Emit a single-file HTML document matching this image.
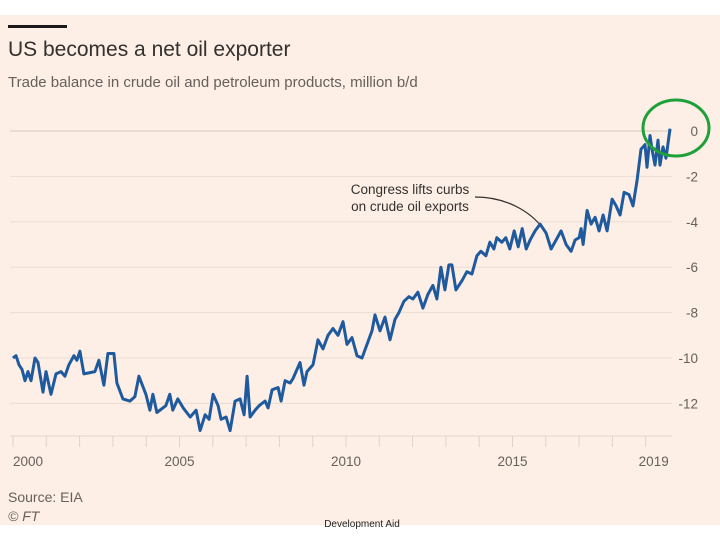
<!DOCTYPE html>
<html><head><meta charset="utf-8">
<style>
html,body{margin:0;padding:0;background:#fff;}
svg{display:block;font-family:"Liberation Sans",sans-serif;}
</style></head>
<body>
<svg id="chart" width="720" height="540" viewBox="0 0 720 540">
<rect x="0" y="15" width="720" height="510" fill="#fdefe5"/>
<rect x="8" y="25" width="59" height="3" fill="#1a1a1a"/>
<text x="8" y="56" font-size="21" fill="#33302e">US becomes a net oil exporter</text>
<text x="8" y="87" font-size="15" fill="#66605c">Trade balance in crude oil and petroleum products, million b/d</text>
<g id="grid"></g>
<g id="xaxis"></g>
<g id="annot">
<text x="410" y="194" font-size="13.5" fill="#33302e" text-anchor="middle">Congress lifts curbs</text>
<text x="410" y="211" font-size="13.5" fill="#33302e" text-anchor="middle">on crude oil exports</text>
<path d="M475,197 C510,197 535,215 545,232" fill="none" stroke="#33302e" stroke-width="1.2"/>
</g>
<path id="line" fill="none" stroke="#1f5a9e" stroke-width="3" stroke-linejoin="round"/>
<ellipse cx="676" cy="128" rx="33" ry="28" fill="none" stroke="#1fa03a" stroke-width="3"/>
<text x="8" y="502" font-size="14" fill="#66605c">Source: EIA</text>
<text x="8" y="521" font-size="14" font-style="italic" fill="#66605c">© FT</text>
<text x="362" y="527" font-size="10" fill="#222" text-anchor="middle">Development Aid</text>
</svg>
<script>
const yearOffsets=[0,.09,.18,.27,.36,.45,.54,.66,.75,.9,.99,1.14,1.29,1.44,1.56,1.68,1.83,1.92,2.01,2.13,2.46,2.58,2.73,2.85,3.03,3.12,3.3,3.51,3.66,3.78,3.99,4.11,4.2,4.32,4.59,4.71,4.8,4.95,5.11,5.32,5.5,5.62,5.77,5.89,6.01,6.16,6.25,6.4,6.52,6.67,6.82,6.94,7.03,7.12,7.27,7.39,7.57,7.66,7.78,7.96,8.05,8.17,8.32,8.41,8.62,8.74,8.83,9.01,9.16,9.31,9.46,9.61,9.76,9.91,10.03,10.18,10.33,10.48,10.63,10.78,10.87,11.02,11.17,11.32,11.47,11.59,11.74,11.89,12.01,12.16,12.31,12.46,12.61,12.73,12.85,12.97,13.09,13.18,13.3,13.48,13.63,13.78,13.93,14.05,14.2,14.32,14.44,14.53,14.68,14.8,14.92,15.05,15.17,15.29,15.41,15.53,15.68,15.83,16.01,16.16,16.31,16.46,16.61,16.76,16.88,17.0,17.06,17.12,17.24,17.36,17.48,17.6,17.72,17.84,17.99,18.11,18.23,18.35,18.5,18.62,18.74,18.86,18.98,19.04,19.13,19.19,19.28,19.37,19.43,19.52,19.61,19.73];
const balance=[-10.0,-9.9,-10.3,-10.5,-11.0,-10.6,-11.0,-10.0,-10.2,-11.5,-10.6,-11.6,-10.7,-10.6,-10.8,-10.3,-9.9,-10.1,-9.7,-10.7,-10.6,-10.1,-11.2,-9.8,-9.8,-11.1,-11.8,-11.9,-11.7,-10.8,-11.6,-12.3,-11.6,-12.4,-12.1,-11.6,-12.3,-11.8,-12.2,-12.6,-12.3,-13.2,-12.5,-12.7,-11.6,-12.1,-12.7,-12.6,-13.2,-11.9,-11.8,-12.5,-10.8,-12.6,-12.3,-12.1,-11.9,-12.2,-11.4,-11.3,-11.9,-11.0,-11.1,-10.9,-10.2,-11.2,-10.6,-10.3,-9.2,-9.6,-9.0,-8.7,-9.0,-8.4,-9.4,-9.1,-9.9,-10.0,-9.4,-8.8,-8.1,-8.8,-8.2,-9.2,-8.3,-8.0,-7.5,-7.3,-7.4,-7.1,-7.8,-7.2,-6.8,-7.4,-6.0,-7.0,-5.9,-5.9,-7.0,-6.6,-6.2,-6.3,-5.5,-5.3,-5.5,-4.9,-5.2,-4.7,-4.9,-4.7,-5.2,-4.4,-5.1,-4.3,-5.2,-4.8,-4.4,-4.1,-4.5,-5.2,-4.8,-4.4,-5.0,-5.3,-4.8,-4.7,-4.3,-5.0,-3.5,-4.1,-3.8,-4.4,-3.7,-4.4,-3.0,-3.3,-3.7,-2.7,-2.8,-3.3,-2.2,-0.8,-0.6,-1.6,-0.2,-0.8,-1.5,-0.4,-1.5,-0.7,-1.2,0.1];
const yTicks=[0,-2,-4,-6,-8,-10,-12];
const xLabels=[2000,2005,2010,2015,2019];
const xMinor=[2000,2001,2002,2003,2004,2005,2006,2007,2008,2009,2010,2011,2012,2013,2014,2015,2016,2017,2018,2019,2020];

const NS="http://www.w3.org/2000/svg";
function xs(yr){return 13+(yr-2000)*33.3;}
function ys(v){return 131-v*22.7;}
const grid=document.getElementById('grid');
yTicks.forEach(t=>{
  const l=document.createElementNS(NS,'line');
  l.setAttribute('x1',10);l.setAttribute('x2',672);l.setAttribute('y1',ys(t));l.setAttribute('y2',ys(t));
  l.setAttribute('stroke',t===0?'#d6c8bd':'#ebddd2');l.setAttribute('stroke-width',1);
  
  
  grid.appendChild(l);
  const tx=document.createElementNS(NS,'text');
  tx.setAttribute('x',698);tx.setAttribute('y',ys(t)+5);tx.setAttribute('text-anchor','end');
  tx.setAttribute('font-size','13.5');tx.setAttribute('fill','#66605c');
  tx.textContent=t;
  
  
  grid.appendChild(tx);
});
const xa=document.getElementById('xaxis');
const base=document.createElementNS(NS,'line');
base.setAttribute('x1',10);base.setAttribute('x2',672);base.setAttribute('y1',436);base.setAttribute('y2',436);
base.setAttribute('stroke','#e3d5ca');base.setAttribute('stroke-width',1);


xa.appendChild(base);
xMinor.forEach(y=>{
  if(xs(y)>673)return;
  const l=document.createElementNS(NS,'line');
  l.setAttribute('x1',xs(y));l.setAttribute('x2',xs(y));l.setAttribute('y1',436);l.setAttribute('y2',447);
  l.setAttribute('stroke','#e0d2c7');l.setAttribute('stroke-width',1);
  
  
  xa.appendChild(l);
});
xLabels.forEach(y=>{
  const tx=document.createElementNS(NS,'text');
  tx.setAttribute('x',xs(y)+(y===2000?15:y===2019?8:0));tx.setAttribute('y',466);tx.setAttribute('text-anchor','middle');
  tx.setAttribute('font-size','13.5');tx.setAttribute('fill','#66605c');
  tx.textContent=y;
  
  
  xa.appendChild(tx);
});
let d='';
balance.forEach((v,i)=>{d+=(i?'L':'M')+xs(2000+yearOffsets[i]).toFixed(1)+','+ys(v).toFixed(1);});
document.getElementById('line').setAttribute('d',d);
</script>
</body></html>
